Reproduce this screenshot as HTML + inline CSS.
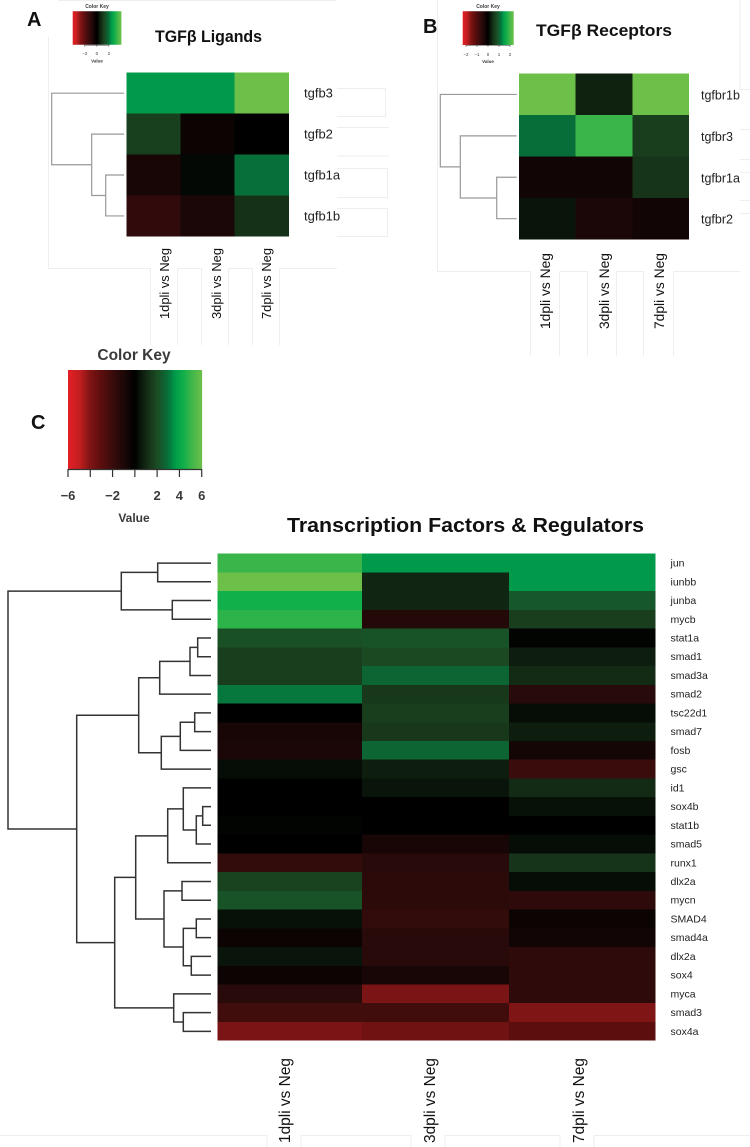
<!DOCTYPE html>
<html lang="en">
<head>
<meta charset="utf-8">
<title>TGF-beta heatmaps</title>
<style>
  html, body { margin: 0; padding: 0; background: #fff; }
  #figure { display: block; width: 750px; height: 1147px; font-family: "Liberation Sans", "DejaVu Sans", sans-serif; }
  .dec { fill: none; stroke: #eeeeee; stroke-width: 1; }
  .title { font-weight: 700; fill: #111; }
  .rowlab { fill: #222; }
  .collab { fill: #111; }
  .soft { filter: blur(0.35px); }
</style>
</head>
<body>
<svg id="figure" xmlns="http://www.w3.org/2000/svg" width="750" height="1147" viewBox="0 0 750 1147">
  <rect x="0" y="0" width="750" height="1147" fill="#ffffff"/>

  <g>
    <path class="dec" d="M58 .5H336M48.5 37V268.5H150.5V345M177.5 268.5V345M177.5 268.5H201.5V345M228.5 268.5V345M228.5 268.5H252.5V345M279.5 268.5V345M279.5 268.5H337"/>
    <path class="dec" d="M337 88.5H385.5V116.5H337M337 127.5H389M337 156H389M337 168.5H387.5V197.5H337M337 208.5H387.5V236.5H337"/>
    <path class="dec" d="M437.5 0V271.5H530.5V356M559.5 271.5V356M559.5 271.5H587.5V356M616.5 271.5V356M616.5 271.5H643.5V356M673.5 271.5V356M673.5 271.5H740"/>
    <path class="dec" d="M740 0V89.5H750M740 129.5H750M740 159.5H750M740 172.5H750M740 200.5H750M740 213.5H750"/>
    <path class="dec" d="M0 1135.5H267V1147M301 1147V1135.5H411V1147M445 1147V1135.5H560V1147M594 1147V1135.5H750"/>
  </g>

  <text class="title" x="27" y="26" font-size="20">A</text>
  <text class="title" x="423" y="33" font-size="20">B</text>
  <text class="title" x="31" y="429" font-size="20">C</text>

  <text class="title" x="155" y="42" font-size="17" textLength="107" lengthAdjust="spacingAndGlyphs">TGFβ Ligands</text>
  <text class="title" x="536" y="36" font-size="17" textLength="136" lengthAdjust="spacingAndGlyphs">TGFβ Receptors</text>
  <text class="title" x="287" y="532" font-size="20.5" textLength="357" lengthAdjust="spacingAndGlyphs">Transcription Factors &amp; Regulators</text>

  <g id="key-a"></g>
  <g id="key-b"></g>
  <g id="key-c" class="soft"></g>

  <g id="map-a"></g>
  <g id="map-b"></g>
  <g id="map-c"></g>

  <g id="dend-a"></g>
  <g id="dend-b"></g>
  <g id="dend-c"></g>

  <g>
    <text class="collab" font-size="13" transform="translate(169,319) rotate(-90)" textLength="71" lengthAdjust="spacingAndGlyphs">1dpli vs Neg</text>
    <text class="collab" font-size="13" transform="translate(221,319) rotate(-90)" textLength="71" lengthAdjust="spacingAndGlyphs">3dpli vs Neg</text>
    <text class="collab" font-size="13" transform="translate(271,319) rotate(-90)" textLength="71" lengthAdjust="spacingAndGlyphs">7dpli vs Neg</text>
  </g>
  <g>
    <text class="collab" font-size="13.5" transform="translate(550,329) rotate(-90)" textLength="76" lengthAdjust="spacingAndGlyphs">1dpli vs Neg</text>
    <text class="collab" font-size="13.5" transform="translate(609,329) rotate(-90)" textLength="76" lengthAdjust="spacingAndGlyphs">3dpli vs Neg</text>
    <text class="collab" font-size="13.5" transform="translate(664,329) rotate(-90)" textLength="76" lengthAdjust="spacingAndGlyphs">7dpli vs Neg</text>
  </g>
  <g>
    <text class="collab" font-size="15.5" transform="translate(290,1143) rotate(-90)" textLength="85" lengthAdjust="spacingAndGlyphs">1dpli vs Neg</text>
    <text class="collab" font-size="15.5" transform="translate(435,1143) rotate(-90)" textLength="85" lengthAdjust="spacingAndGlyphs">3dpli vs Neg</text>
    <text class="collab" font-size="15.5" transform="translate(584,1143) rotate(-90)" textLength="85" lengthAdjust="spacingAndGlyphs">7dpli vs Neg</text>
  </g>
</svg>

<script>
// ---------- Panel A data ----------
const ligandGenes = ['tgfb3', 'tgfb2', 'tgfb1a', 'tgfb1b'];
const ligandDay1 = [2.4, 1.07, -0.53, -1.13];
const ligandDay3 = [2.4, -0.27, 0.13, -0.6];
const ligandDay7 = [4, 0, 2, 0.8];
const ligandMergeLeft = [-3, -2, -1];
const ligandMergeRight = [-4, 1, 2];
const ligandMergeHeight = [18.3, 32.3, 72.3];
const ligandKeyTicks = [-2, 0, 2];

// ---------- Panel B data ----------
const receptorGenes = ['tgfbr1b', 'tgfbr3', 'tgfbr1a', 'tgfbr2'];
const receptorDay1 = [2.3, 1.13, -0.23, 0.19];
const receptorDay3 = [0.31, 1.92, -0.23, -0.35];
const receptorDay7 = [2.3, 0.61, 0.5, -0.23];
const receptorMergeLeft = [-3, -2, -1];
const receptorMergeRight = [-4, 1, 2];
const receptorMergeHeight = [20, 56.4, 76.4];
const receptorKeyTicks = [-2, -1, 0, 1, 2];

// ---------- Panel C data ----------
const factorGenes = ['jun', 'iunbb', 'junba', 'mycb', 'stat1a', 'smad1', 'smad3a', 'smad2', 'tsc22d1', 'smad7', 'fosb', 'gsc', 'id1', 'sox4b', 'stat1b', 'smad5', 'runx1', 'dlx2a', 'mycn', 'SMAD4', 'smad4a', 'dlx2a', 'sox4', 'myca', 'smad3', 'sox4a'];
const factorDay1 = [5, 6, 4.4, 4.8, 2.1, 1.6, 1.6, 3.1, 0, -0.8, -0.9, 0.3, 0, 0, 0.1, 0, -1.7, 1.7, 2.2, 0.4, -0.4, 0.5, -0.4, -1.4, -2.2, -3.9];
const factorDay3 = [3.6, 0.9, 0.9, -1.2, 2.2, 1.9, 2.7, 1.4, 1.6, 1.4, 2.7, 0.7, 0.5, 0, 0, -0.8, -1.4, -1.5, -1.5, -1.7, -1.4, -1.4, -0.8, -3.9, -2.2, -3.6];
const factorDay7 = [3.6, 3.6, 2.3, 1.6, 0.1, 0.7, 1, -1.4, 0.3, 0.7, -0.7, -2, 1, 0.4, 0, 0.3, 1.3, 0.3, -1.6, -0.4, -0.6, -1.6, -1.6, -1.6, -4, -3];
const factorMergeLeft = [-1, -3, 1, -5, 4, 5, -9, 7, 8, 6, -14, 11, -13, 13, -18, -20, -22, 16, 15, 14, -25, -24, 20, 10, 3];
const factorMergeRight = [-2, -4, 2, -6, -7, -8, -10, -11, -12, 9, -15, -16, 12, -17, -19, -21, -23, 17, 18, 19, -26, 21, 22, 23, 24];
const factorMergeHeight = [53.3, 38.7, 89.7, 13.3, 21, 51.3, 16.3, 30.7, 49.7, 72.3, 8.3, 14.7, 27.7, 43.3, 29, 14.7, 19.7, 27.7, 47, 75.3, 27.7, 37.3, 96.3, 134.3, 203];
const factorKeyTicks = [-6, -4, -2, 0, 2, 4, 6];
const factorKeyLabels = ['\u22126', '', '\u22122', '', '2', '4', '6'];

// ---------- Colour scale (fraction of range -> colour) ----------
const greenRamp = [[0, '#000000'], [0.167, '#132a14'], [0.333, '#1c4c24'], [0.5, '#07703a'], [0.6, '#009a4a'], [0.733, '#12b04a'], [0.833, '#39b54a'], [1, '#6cc04a']];
const redRamp = [[0, '#000000'], [0.167, '#1e0808'], [0.333, '#3a0c0c'], [0.5, '#5c0d0d'], [0.667, '#7f1515'], [0.833, '#c41e20'], [1, '#e41f26']];

const NS = 'http://www.w3.org/2000/svg';

function hexToRgb(h) {
  return [parseInt(h.slice(1, 3), 16), parseInt(h.slice(3, 5), 16), parseInt(h.slice(5, 7), 16)];
}

function colorFor(v, vmax) {
  const ramp = v >= 0 ? greenRamp : redRamp;
  const t = Math.min(1, Math.abs(v) / vmax);
  for (let i = 1; i < ramp.length; i++) {
    if (t <= ramp[i][0]) {
      const a = hexToRgb(ramp[i - 1][1]);
      const b = hexToRgb(ramp[i][1]);
      const f = (t - ramp[i - 1][0]) / (ramp[i][0] - ramp[i - 1][0]);
      return 'rgb(' + a.map((c, k) => Math.round(c + (b[k] - c) * f)).join(',') + ')';
    }
  }
  return ramp[ramp.length - 1][1];
}

function svgEl(tag, parent, attrs) {
  const el = document.createElementNS(NS, tag);
  for (const k in attrs) el.setAttribute(k, attrs[k]);
  parent.appendChild(el);
  return el;
}

function drawHeatmap(target, box, genes, columns, vmax, label) {
  const g = document.getElementById(target);
  const yScale = i => box.top + (box.bottom - box.top) * i / genes.length;
  columns.forEach((values, c) => {
    values.forEach((v, r) => {
      const rect = svgEl('rect', g, {
        x: box.cols[c], y: yScale(r), width: box.cols[c + 1] - box.cols[c], height: yScale(r + 1) - yScale(r),
        fill: colorFor(v, vmax), 'shape-rendering': 'crispEdges'
      });
      
      
    });
  });
  genes.forEach((name, r) => {
    const t = svgEl('text', g, {
      x: label.x, y: (yScale(r) + yScale(r + 1)) / 2 + label.dy,
      'font-size': label.size, 'class': 'rowlab'
    });
    t.textContent = name;
    
    
  });
}

function drawDendrogram(target, box, count, lefts, rights, heights, style) {
  const g = document.getElementById(target);
  const yLeaf = i => box.top + (box.bottom - box.top) * (i + 0.5) / count;
  const xOf = h => box.leafX - h;
  const nodes = [];
  const locate = id => id < 0 ? { y: yLeaf(-id - 1), h: 0 } : nodes[id - 1];
  heights.forEach((h, i) => {
    const a = locate(lefts[i]);
    const b = locate(rights[i]);
    const x = xOf(h);
    const p = svgEl('path', g, {
      d: 'M' + xOf(a.h) + ' ' + a.y + 'H' + x + 'V' + b.y + 'H' + xOf(b.h),
      fill: 'none', stroke: style.color, 'stroke-width': style.width
    });
    
    
    nodes.push({ y: (a.y + b.y) / 2, h: h });
  });
}

function drawKey(target, k, ticks, labels) {
  const g = document.getElementById(target);
  const xScale = v => k.x0 + (k.x1 - k.x0) * (v + k.vmax) / (2 * k.vmax);
  const n = 64;
  for (let i = 0; i < n; i++) {
    const v = -k.vmax + 2 * k.vmax * (i + 0.5) / n;
    const r = svgEl('rect', g, {
      x: k.x0 + (k.x1 - k.x0) * i / n, y: k.y0,
      width: (k.x1 - k.x0) / n + 0.4, height: k.y1 - k.y0, fill: colorFor(v, k.vmax)
    });
    
    
  }
  const title = svgEl('text', g, { x: k.cx, y: k.titleY, 'font-size': k.titleSize, 'font-weight': 700, 'text-anchor': 'middle', fill: '#3a3a3a' });
  title.textContent = 'Color Key';
  
  
  const axis = svgEl('line', g, { x1: xScale(ticks[0]), x2: xScale(ticks[ticks.length - 1]), y1: k.y1 + 0.5, y2: k.y1 + 0.5, stroke: '#333', 'stroke-width': k.tickWidth });
  
  
  ticks.forEach((v, i) => {
    const tick = svgEl('line', g, { x1: xScale(v), x2: xScale(v), y1: k.y1, y2: k.y1 + k.tickLen, stroke: '#333', 'stroke-width': k.tickWidth });
    
    
    if (labels[i] !== '') {
      const t = svgEl('text', g, { x: xScale(v), y: k.labelY, 'font-size': k.labelSize, 'font-weight': k.labelWeight, 'text-anchor': 'middle', fill: '#3a3a3a' });
      t.textContent = labels[i];
      
      
    }
  });
  const val = svgEl('text', g, { x: k.cx, y: k.valueY, 'font-size': k.valueSize, 'font-weight': 700, 'text-anchor': 'middle', fill: '#3a3a3a' });
  val.textContent = 'Value';
  
  
}

// ---------- Panel A ----------
drawHeatmap('map-a', { top: 72.7, bottom: 236.4, cols: [126.7, 180.7, 234.7, 289] }, ligandGenes, [ligandDay1, ligandDay3, ligandDay7], 4, { x: 304, dy: 4.5, size: 13 });
drawDendrogram('dend-a', { top: 72.7, bottom: 236.4, leafX: 124 }, 4, ligandMergeLeft, ligandMergeRight, ligandMergeHeight, { color: '#999999', width: 1.2 });
drawKey('key-a', { x0: 72.7, x1: 121, y0: 11.3, y1: 44.7, vmax: 4, cx: 97, titleY: 8, titleSize: 5, labelY: 55, labelSize: 4.5, labelWeight: 400, valueY: 62.5, valueSize: 4.5, tickLen: 2, tickWidth: 0.5 }, ligandKeyTicks, ['\u22122', '0', '2']);

// ---------- Panel B ----------
drawHeatmap('map-b', { top: 73.7, bottom: 239.4, cols: [519, 575.7, 632.3, 689] }, receptorGenes, [receptorDay1, receptorDay3, receptorDay7], 2.3, { x: 701, dy: 5, size: 12.5 });
drawDendrogram('dend-b', { top: 73.7, bottom: 239.4, leafX: 516.7 }, 4, receptorMergeLeft, receptorMergeRight, receptorMergeHeight, { color: '#999999', width: 1.2 });
drawKey('key-b', { x0: 462.7, x1: 513.3, y0: 11.3, y1: 45, vmax: 2.3, cx: 488, titleY: 8, titleSize: 5, labelY: 56, labelSize: 4.5, labelWeight: 400, valueY: 63, valueSize: 4.5, tickLen: 2, tickWidth: 0.5 }, receptorKeyTicks, ['\u22122', '\u22121', '0', '1', '2']);

// ---------- Panel C ----------
drawHeatmap('map-c', { top: 553.7, bottom: 1040.7, cols: [217.5, 362, 509, 655.5] }, factorGenes, [factorDay1, factorDay3, factorDay7], 6, { x: 670.5, dy: 3.5, size: 10.5 });
drawDendrogram('dend-c', { top: 553.7, bottom: 1040.7, leafX: 211 }, 26, factorMergeLeft, factorMergeRight, factorMergeHeight, { color: '#333333', width: 1.5 });
drawKey('key-c', { x0: 68, x1: 201.7, y0: 370, y1: 469, vmax: 6, cx: 134, titleY: 360, titleSize: 15.5, labelY: 500, labelSize: 13, labelWeight: 700, valueY: 522, valueSize: 12, tickLen: 8, tickWidth: 1.2 }, factorKeyTicks, factorKeyLabels);

// Clipped row labels, as in the source image
const fosbMask = svgEl('rect', document.getElementById('map-c'), { x: 668, y: 755, width: 40, height: 4, fill: '#ffffff' });


const smad5Mask = svgEl('rect', document.getElementById('map-c'), { x: 668, y: 848, width: 40, height: 3, fill: '#ffffff' });


</script>
</body>
</html>
